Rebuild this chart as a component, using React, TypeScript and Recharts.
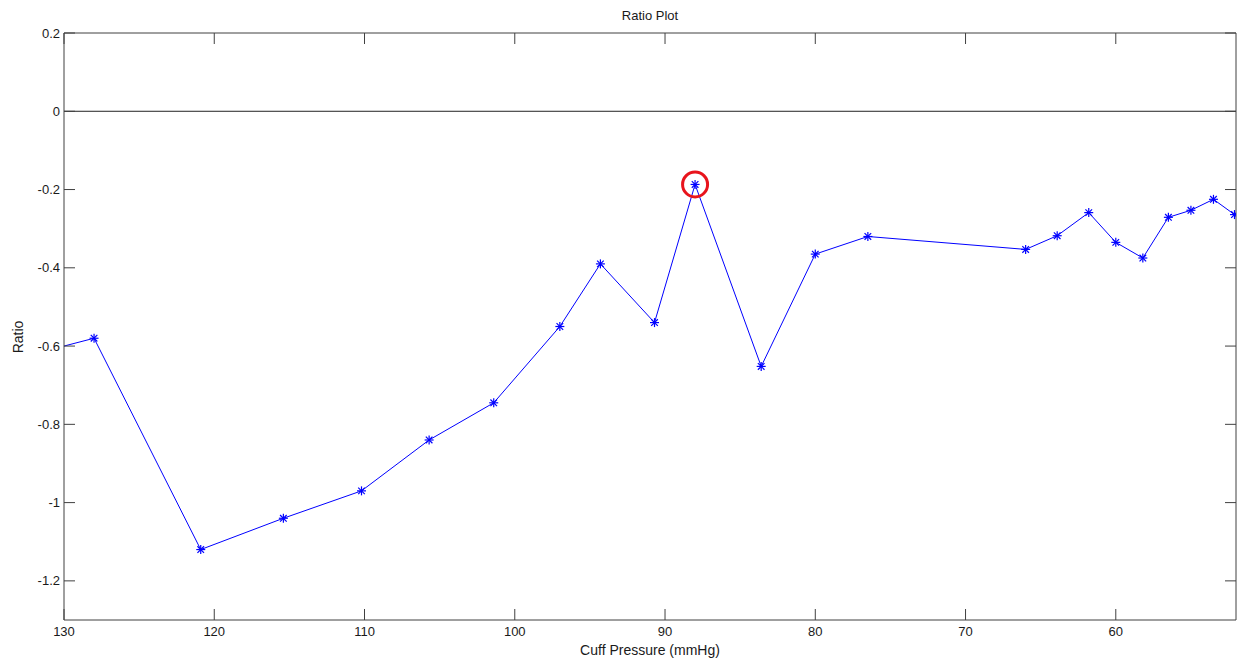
import React from "react";
import {
  LineChart,
  Line,
  XAxis,
  YAxis,
  ReferenceLine,
  ReferenceDot,
} from "recharts";

// cuff pressure (mmHg) and the matching ratio, in acquisition order
const pressure = [131, 128, 120.9, 115.4, 110.2, 105.7, 101.4, 97.0, 94.3, 90.7, 88.0, 83.6, 80.0, 76.5, 66.0, 63.9, 61.8, 60.0, 58.2, 56.5, 55.0, 53.5, 52.1];
const ratio = [-0.61, -0.58, -1.12, -1.04, -0.97, -0.84, -0.745, -0.55, -0.39, -0.54, -0.187, -0.652, -0.365, -0.32, -0.353, -0.318, -0.259, -0.335, -0.375, -0.271, -0.253, -0.225, -0.264];

const xTicks = [130, 120, 110, 100, 90, 80, 70, 60];
const yTicks = [0.2, 0, -0.2, -0.4, -0.6, -0.8, -1, -1.2];

// highlighted sample (peak ratio)
const peak = { pressure: 88.0, ratio: -0.187 };

const data = pressure.map((p, i) => ({ p, r: ratio[i] }));

const AXIS = "#404040";
const TEXT = "#1a1a1a";
const FONT = "'Liberation Sans', Arial, sans-serif";
const TICK_LEN = 11;

const fmtY = (v: number) => (v === 0 ? "0" : String(Number(v.toFixed(1))));

const BottomTick = ({ x, y, payload }: any) => (
  <g>
    <line x1={x} y1={y} x2={x} y2={y - TICK_LEN} stroke={AXIS} />
    <text x={x} y={y + 16} textAnchor="middle" fontSize={13} fill={TEXT} fontFamily={FONT}>
      {payload.value}
    </text>
  </g>
);

const TopTick = ({ x, y }: any) => (
  <line x1={x} y1={y} x2={x} y2={y + TICK_LEN} stroke={AXIS} />
);

const LeftTick = ({ x, y, payload }: any) => (
  <g>
    <line x1={x} y1={y} x2={x + TICK_LEN} y2={y} stroke={AXIS} />
    <text x={x - 4} y={y + 4.5} textAnchor="end" fontSize={13} fill={TEXT} fontFamily={FONT}>
      {fmtY(payload.value)}
    </text>
  </g>
);

const RightTick = ({ x, y }: any) => (
  <line x1={x} y1={y} x2={x - TICK_LEN} y2={y} stroke={AXIS} />
);

// MATLAB-style '*' marker
const Star = ({ cx, cy, index }: any) => {
  if (cx == null || cy == null) return <g key={index} />;
  const a = 4.5;
  const d = 3.3;
  return (
    <g key={index} stroke="#0000ff" strokeWidth={1.2}>
      <line x1={cx - a} y1={cy} x2={cx + a} y2={cy} />
      <line x1={cx} y1={cy - a} x2={cx} y2={cy + a} />
      <line x1={cx - d} y1={cy - d} x2={cx + d} y2={cy + d} />
      <line x1={cx - d} y1={cy + d} x2={cx + d} y2={cy - d} />
    </g>
  );
};

export default function App() {
  return (
    <div style={{ position: "absolute", left: 0, top: 0, width: 1238, height: 664, background: "#fff" }}>
      <div
        style={{
          position: "absolute",
          left: 64,
          width: 1172,
          top: 8,
          textAlign: "center",
          fontFamily: FONT,
          fontSize: 13,
          color: TEXT,
        }}
      >
        Ratio Plot
      </div>
      <div
        style={{
          position: "absolute",
          left: 64,
          width: 1172,
          top: 642,
          textAlign: "center",
          fontFamily: FONT,
          fontSize: 14,
          color: TEXT,
        }}
      >
        Cuff Pressure (mmHg)
      </div>
      <div
        style={{
          position: "absolute",
          left: 18,
          top: 337,
          transform: "translate(-50%, -50%) rotate(-90deg)",
          fontFamily: FONT,
          fontSize: 14,
          color: TEXT,
        }}
      >
        Ratio
      </div>
      <LineChart
        width={1238}
        height={664}
        data={data}
        margin={{ top: 0, right: 0, bottom: 0, left: 0 }}
      >
        <XAxis
          xAxisId="bottom"
          dataKey="p"
          type="number"
          domain={[52, 130]}
          reversed
          allowDataOverflow
          ticks={xTicks}
          height={44}
          tickSize={0}
          tickMargin={0}
          tickLine={false}
          axisLine={{ stroke: AXIS }}
          tick={<BottomTick />}
        />
        <XAxis
          xAxisId="top"
          orientation="top"
          dataKey="p"
          type="number"
          domain={[52, 130]}
          reversed
          allowDataOverflow
          ticks={xTicks}
          height={33}
          tickSize={0}
          tickMargin={0}
          tickLine={false}
          axisLine={{ stroke: AXIS }}
          tick={<TopTick />}
        />
        <YAxis
          yAxisId="left"
          type="number"
          domain={[-1.3, 0.2]}
          allowDataOverflow
          ticks={yTicks}
          width={64}
          tickSize={0}
          tickMargin={0}
          tickLine={false}
          axisLine={{ stroke: AXIS }}
          tick={<LeftTick />}
        />
        <YAxis
          yAxisId="right"
          orientation="right"
          type="number"
          domain={[-1.3, 0.2]}
          allowDataOverflow
          ticks={yTicks}
          width={2}
          tickSize={0}
          tickMargin={0}
          tickLine={false}
          axisLine={{ stroke: AXIS }}
          tick={<RightTick />}
        />
        <ReferenceLine xAxisId="bottom" yAxisId="left" y={0} stroke="#222" strokeWidth={1} />
        <Line
          xAxisId="bottom"
          yAxisId="left"
          type="linear"
          dataKey="r"
          stroke="#0000ff"
          strokeWidth={1}
          dot={Star}
          activeDot={false}
          isAnimationActive={false}
        />
        <ReferenceDot
          xAxisId="bottom"
          yAxisId="left"
          x={peak.pressure}
          y={peak.ratio}
          r={12.5}
          fill="none"
          stroke="#e8141c"
          strokeWidth={3}
        />
      </LineChart>
    </div>
  );
}
